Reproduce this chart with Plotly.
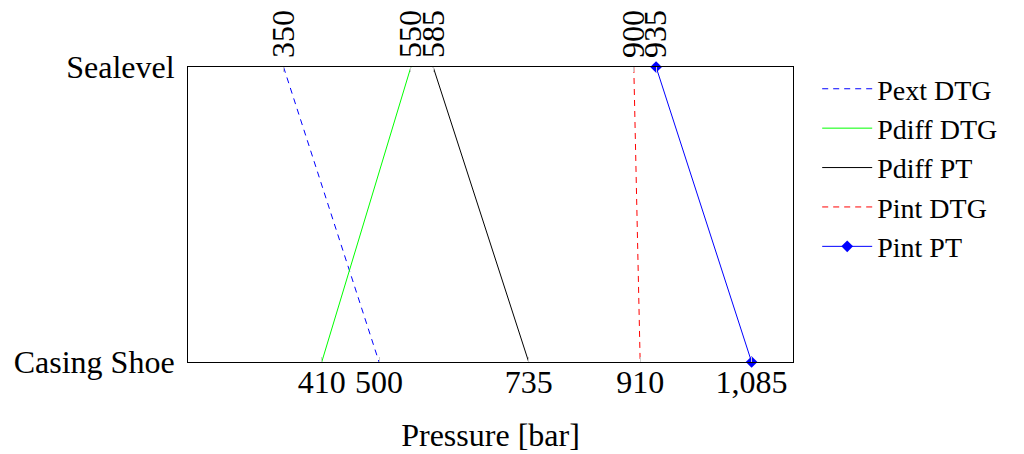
import plotly.graph_objects as go

depth = ["Sealevel", "Casing Shoe"]
pext_dtg = [350, 500]
pdiff_dtg = [550, 410]
pdiff_pt = [585, 735]
pint_dtg = [900, 910]
pint_pt = [935, 1085]

top_ticks = [350, 550, 585, 900, 935]
bottom_ticks = [410, 500, 735, 910, 1085]
bottom_labels = ["410", "500", "735", "910", "1,085"]

FONT = "Liberation Serif"
FS = 32

fig = go.Figure()
fig.add_trace(go.Scatter(x=pext_dtg, y=depth, mode="lines", name="Pext DTG",
                         line=dict(color="#0000ff", width=1, dash="6px,5px")))
fig.add_trace(go.Scatter(x=pdiff_dtg, y=depth, mode="lines", name="Pdiff DTG",
                         line=dict(color="#00ff00", width=1)))
fig.add_trace(go.Scatter(x=pdiff_pt, y=depth, mode="lines", name="Pdiff PT",
                         line=dict(color="#000000", width=1)))
fig.add_trace(go.Scatter(x=pint_dtg, y=depth, mode="lines", name="Pint DTG",
                         line=dict(color="#ff0000", width=1, dash="6px,5px")))
fig.add_trace(go.Scatter(x=pint_pt, y=depth, mode="lines+markers", name="Pint PT",
                         line=dict(color="#0000ff", width=1),
                         marker=dict(symbol="diamond", size=9, color="#0000ff"),
                         cliponaxis=False))
# invisible trace for the top axis
fig.add_trace(go.Scatter(x=top_ticks, y=["Sealevel"] * len(top_ticks), xaxis="x2",
                         mode="markers", marker=dict(opacity=0), showlegend=False,
                         hoverinfo="skip"))

xr = [200, 1150]
fig.update_layout(
    width=1024, height=454,
    margin=dict(l=180, r=239, t=59, b=100, autoexpand=False),
    plot_bgcolor="white", paper_bgcolor="white",
    font=dict(family=FONT, size=FS, color="black"),
    showlegend=True,
    legend=dict(x=1.04, y=1.01, xanchor="left", yanchor="top",
                font=dict(family=FONT, size=28), tracegroupgap=0,
                itemwidth=50, bgcolor="rgba(0,0,0,0)"),
    xaxis=dict(range=xr, tickmode="array", tickvals=bottom_ticks, ticktext=bottom_labels,
               ticks="inside", ticklen=5, tickcolor="#cccccc", showgrid=False,
               zeroline=False, showline=True, linecolor="black", linewidth=1,
               mirror=True, ticklabelstandoff=-8, automargin=False,
               title=dict(text="Pressure [bar]", font=dict(family=FONT, size=FS), standoff=24),
               tickfont=dict(family=FONT, size=FS)),
    xaxis2=dict(range=xr, overlaying="x", side="top", tickmode="array",
                tickvals=top_ticks, ticktext=[str(v) for v in top_ticks],
                tickangle=-90, ticks="inside", ticklen=5, tickcolor="#cccccc",
                showgrid=False, zeroline=False, showline=False, ticklabelstandoff=8,
                automargin=False, tickfont=dict(family=FONT, size=FS)),
    yaxis=dict(type="category", categoryarray=["Casing Shoe", "Sealevel"],
               range=[0, 1], showgrid=False, zeroline=False, showline=True,
               linecolor="black", linewidth=1, mirror=True, ticks="",
               ticklabelstandoff=6, automargin=False,
               tickfont=dict(family=FONT, size=FS)),
)

fig.write_html("out.html")
